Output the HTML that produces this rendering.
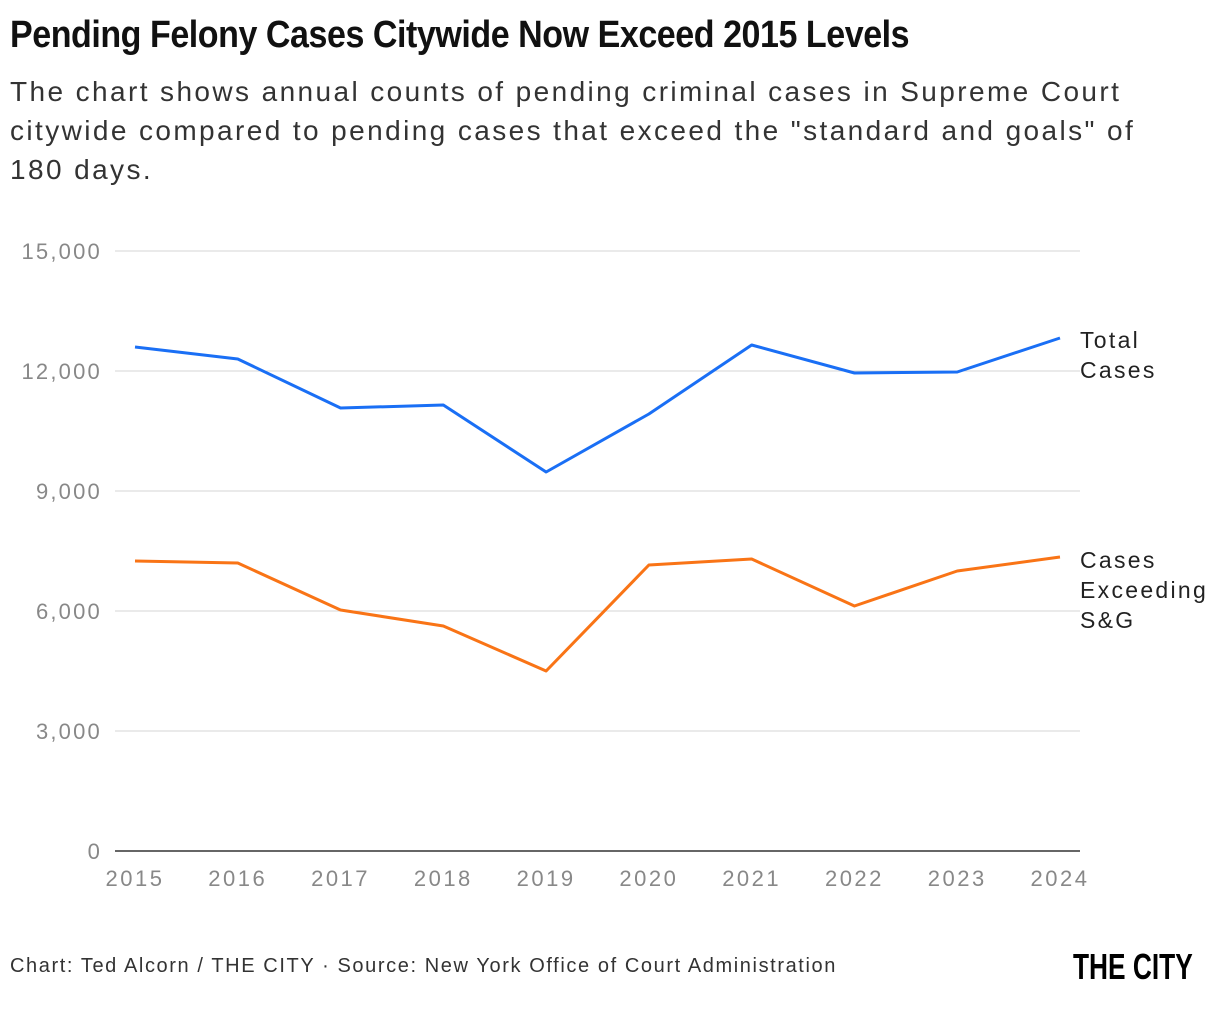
<!DOCTYPE html>
<html><head><meta charset="utf-8"><style>
body{margin:0;width:1220px;height:1010px;background:#fff;font-family:"Liberation Sans",sans-serif;overflow:hidden;position:relative}
#title{position:absolute;left:10px;top:14px;font-size:38px;font-weight:bold;color:#111;white-space:nowrap;transform:scaleX(0.895);transform-origin:left top;letter-spacing:-0.5px}
#sub{position:absolute;left:10px;top:72px;font-size:28px;line-height:39px;color:#333;width:1200px;letter-spacing:2.4px;white-space:nowrap}
#foot{position:absolute;left:10px;top:955px;font-size:20px;color:#333;letter-spacing:1.6px;white-space:nowrap}
#logo{position:absolute;left:1073px;top:946px;font-size:36px;font-weight:bold;color:#000;transform:scaleX(0.73);transform-origin:left top;white-space:nowrap}
svg{position:absolute;left:0;top:0}
</style></head><body>
<div id="title">Pending Felony Cases Citywide Now Exceed 2015 Levels</div>
<div id="sub">The chart shows annual counts of pending criminal cases in Supreme Court<br>citywide compared to pending cases that exceed the "standard and goals" of<br>180 days.</div>
<svg id="chart" width="1220" height="1010"></svg>
<div id="foot">Chart: Ted Alcorn / THE CITY · Source: New York Office of Court Administration</div>
<div id="logo">THE CITY</div>
<script>
const years=[2015,2016,2017,2018,2019,2020,2021,2022,2023,2024];
const totalCases=[12600,12300,11075,11150,9475,10925,12650,11950,11975,12825];
const exceedingCases=[7250,7200,6025,5625,4500,7150,7300,6125,7000,7350];
const yTicks=[0,3000,6000,9000,12000,15000];
const svg=document.getElementById('chart');
const NS='http://www.w3.org/2000/svg';
const x=i=>135+i*(1060-135)/(years.length-1);
const y=v=>851-v*(600/15000);
function mk(t,a){const e=document.createElementNS(NS,t);for(const k in a)e.setAttribute(k,a[k]);svg.appendChild(e);return e;}
yTicks.forEach(v=>{
 const l=mk('line',{x1:115,x2:1080,y1:y(v),y2:y(v),stroke:v===0?'#333':'#d6d6d6','stroke-width':v===0?1.5:1});
 
 
 const t=mk('text',{x:102,y:y(v)+8,'text-anchor':'end','font-size':22,fill:'#888','font-family':'Liberation Sans','letter-spacing':'2.2px'});
 t.textContent=v.toLocaleString('en-US');
 
 
});
years.forEach((yr,i)=>{
 const t=mk('text',{x:x(i),y:886,'text-anchor':'middle','font-size':22,fill:'#888','font-family':'Liberation Sans','letter-spacing':'2.5px'});
 t.textContent=yr;
 
 
});
function series(vals,color,name){
 const p=mk('polyline',{points:vals.map((v,i)=>x(i)+','+y(v)).join(' '),fill:'none',stroke:color,'stroke-width':3,'stroke-linejoin':'round'});
 
 
}
series(totalCases,'#1a6ff5','total-cases-line');
series(exceedingCases,'#f97416','exceeding-cases-line');
function label(lines,y0,name){
 lines.forEach((s,k)=>{
  const t=mk('text',{x:1080,y:y0+k*30,'font-size':23,fill:'#222','font-family':'Liberation Sans','letter-spacing':'2.3px'});
  t.textContent=s;
  
  
 });
}
label(['Total','Cases'],348,'total-cases-label');
label(['Cases','Exceeding','S&G'],568,'exceeding-cases-label');
</script>
</body></html>
